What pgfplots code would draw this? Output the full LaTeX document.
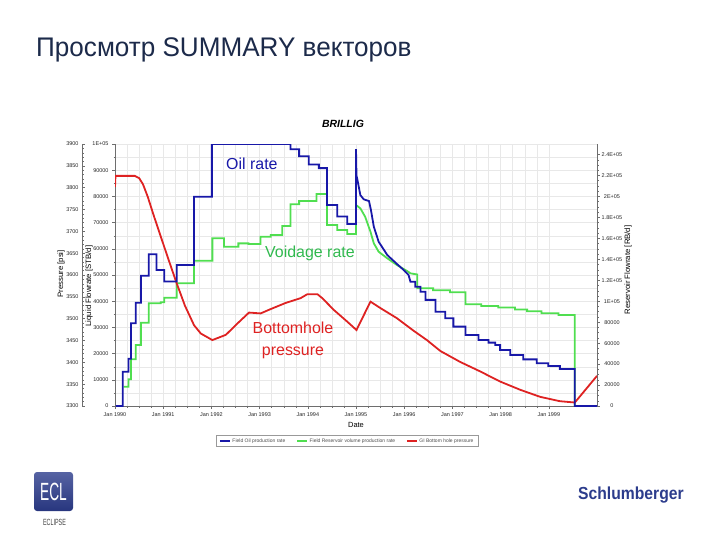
\documentclass[border=0pt]{standalone}
\usepackage{pgfplots}
\pgfplotsset{compat=1.18}
\usepackage{fontspec}
\setmainfont{Liberation Sans}

\definecolor{oilblue}{RGB}{24,24,168}
\definecolor{voidgreen}{RGB}{80,222,80}
\definecolor{bhpred}{RGB}{222,34,34}
\definecolor{txtgreen}{RGB}{48,185,78}
\definecolor{titlenavy}{RGB}{28,42,74}
\definecolor{slbnavy}{RGB}{44,60,140}
\definecolor{axgray}{RGB}{110,110,110}

\newcommand{\tickfont}{\fontsize{5.5}{6}\selectfont}

\pgfplotsset{
  chartbox/.style={
    scale only axis, width=482bp, height=262bp,
    at={(115bp,-406bp)}, anchor=south west,
    xmin=1990, xmax=2000,
    /pgf/number format/.cd, 1000 sep={}, assume math mode=true, /pgfplots/.cd,
    scaled y ticks=false,
    tick label style={font=\tickfont, text=black!85},
    axis line style={axgray, line width=0.5bp},
    major tick length=3bp, minor tick length=1.5bp,
    tick style={axgray, line width=0.4bp},
  },
}

\begin{document}
\begin{tikzpicture}[x=1bp,y=1bp]
\path[use as bounding box] (0bp,0bp) rectangle (720bp,-540bp);

% slide title
\node[anchor=base west, inner sep=0, text=titlenavy, font=\fontsize{27}{27}\selectfont]
  at (36bp,-56bp) {\scalebox{0.97}[1]{Просмотр SUMMARY векторов}};

% main axis: grid, date axis, liquid flowrate axis, legend
\begin{axis}[chartbox,
  ymin=0, ymax=100000,
  axis lines*=left,
  tick align=outside,
  xtick={1990,1991,1992,1993,1994,1995,1996,1997,1998,1999},
  xticklabels={Jan 1990,Jan 1991,Jan 1992,Jan 1993,Jan 1994,Jan 1995,Jan 1996,Jan 1997,Jan 1998,Jan 1999},
  minor x tick num=3,
  ytick={0,10000,20000,30000,40000,50000,60000,70000,80000,90000,100000},
  yticklabels={0,10000,20000,30000,40000,50000,60000,70000,80000,90000,1E+05},
  minor y tick num=1,
  grid=both, grid style={gray!18, line width=0.4bp},
  xlabel={Date},
  xlabel style={font=\fontsize{7.5}{8}\selectfont, at={(axis description cs:0.5,-0.072)}, anchor=center},
  ylabel={Liquid Flowrate [STB/d]},
  ylabel style={font=\fontsize{7.8}{8}\selectfont, at={([xshift=-26bp]rel axis cs:0,0.458)}, anchor=center},
  title={BRILLIG},
  title style={font=\bfseries\itshape\fontsize{10.5}{11}\selectfont, at={(axis description cs:0.473,1.053)}, anchor=center},
  legend style={at={(axis description cs:0.482,-0.134)}, anchor=center,
    font=\fontsize{5}{5.5}\selectfont, text=black!70, draw=gray!80,
    inner xsep=3bp, inner ysep=1bp, legend columns=3,
    /tikz/every even column/.append style={column sep=9bp}},
  legend image code/.code={\draw[#1, line width=1.3bp] (0bp,0bp) -- (10bp,0bp);},
]
\addlegendimage{oilblue}\addlegendentry{Field Oil production rate}
\addlegendimage{voidgreen}\addlegendentry{Field Reservoir volume production rate}
\addlegendimage{bhpred}\addlegendentry{GI Bottom hole pressure}
\end{axis}

% pressure axis on the far left
\begin{axis}[
  scale only axis, width=1bp, height=262bp,
  at={(82bp,-406bp)}, anchor=south west,
  xmin=0, xmax=1, ymin=3300, ymax=3900,
  axis x line=none, axis y line*=left,
  /pgf/number format/.cd, 1000 sep={}, assume math mode=true, /pgfplots/.cd,
  scaled y ticks=false,
  ytick={3300,3350,...,3900}, minor y tick num=4,
  tick align=inside,
  tick label style={font=\tickfont, text=black!85},
  axis line style={axgray, line width=0.5bp},
  major tick length=3bp, minor tick length=1.5bp,
  tick style={axgray, line width=0.4bp},
  ylabel={Pressure [psi]},
  ylabel style={font=\fontsize{7.8}{8}\selectfont, at={([xshift=-21bp]rel axis cs:0,0.504)}, anchor=center},
]
\end{axis}

% voidage rate on the right axis
\begin{axis}[chartbox,
  ymin=0, ymax=250000,
  axis x line=none, axis y line*=right,
  tick align=outside,
  ytick={0,20000,40000,60000,80000,100000,120000,140000,160000,180000,200000,220000,240000},
  yticklabels={0,20000,40000,60000,80000,1E+05,1.2E+05,1.4E+05,1.6E+05,1.8E+05,2E+05,2.2E+05,2.4E+05},
  minor y tick num=3,
  yticklabel style={anchor=center, xshift=12bp},
  ylabel={Reservoir Flowrate [RB/d]},
  ylabel style={font=\fontsize{7.8}{8}\selectfont, at={([xshift=31bp]rel axis cs:1,0.519)}, anchor=center},
]
\addplot[voidgreen, line width=1.8bp] coordinates {
(1990.18,18400)(1990.28,18400)(1990.28,25500)(1990.33,25500)(1990.33,44600)(1990.43,44600)
(1990.43,58200)(1990.54,58200)(1990.54,79500)(1990.70,79500)(1990.70,98000)(1990.95,98000)
(1990.95,99000)(1991.02,99000)(1991.02,103300)(1991.28,103300)(1991.28,117100)(1991.64,117100)
(1991.64,138600)(1992.02,138600)(1992.02,160000)(1992.26,160000)(1992.26,152000)(1992.56,152000)
(1992.56,155200)(1992.77,155200)(1992.77,154600)(1993.02,154600)(1993.02,161500)(1993.23,161500)
(1993.23,163200)(1993.47,163200)(1993.47,171800)(1993.64,171800)(1993.64,192500)(1993.82,192500)
(1993.82,195600)(1994.18,195600)(1994.18,202300)(1994.40,202300)(1994.40,172700)(1994.61,172700)
(1994.61,167900)(1994.82,167900)(1994.82,164100)(1995.00,164100)(1995.00,191800)
(1995.09,188600)(1995.19,180600)(1995.30,166300)(1995.37,155200)(1995.47,147200)(1995.65,140900)
(1995.85,134500)(1996.06,128800)(1996.13,126600)(1996.27,125500)(1996.27,112300)(1996.60,112300)
(1996.60,110500)(1996.95,110500)(1996.95,108500)(1997.27,108500)(1997.27,97000)(1997.60,97000)
(1997.60,95500)(1997.95,95500)(1997.95,94000)(1998.30,94000)(1998.30,92000)(1998.55,92000)
(1998.55,90500)(1998.85,90500)(1998.85,88500)(1999.20,88500)(1999.20,86800)(1999.54,86800)
(1999.54,0)
};
\end{axis}

% bottom hole pressure
\begin{axis}[chartbox, hide axis, ymin=3300, ymax=3900]
\addplot[bhpred, line width=1.8bp] coordinates {
(1990.00,3802)(1990.01,3827)(1990.41,3827)(1990.50,3822)(1990.58,3808)(1990.68,3779)
(1990.81,3734)(1990.95,3688)(1991.09,3642)(1991.27,3584)(1991.45,3530)(1991.64,3485)
(1991.78,3466)(1992.02,3451)(1992.30,3463)(1992.55,3490)(1992.78,3514)(1993.02,3512)
(1993.23,3522)(1993.54,3536)(1993.85,3547)(1993.99,3556)(1994.20,3556)(1994.30,3547)
(1994.54,3520)(1994.82,3493)(1995.01,3474)(1995.30,3539)(1995.51,3524)(1995.85,3501)
(1996.20,3472)(1996.47,3451)(1996.75,3426)(1997.16,3401)(1997.58,3379)(1997.99,3356)
(1998.41,3337)(1998.82,3321)(1999.23,3311)(1999.54,3308)(2000.00,3369)
};
\end{axis}

% oil production rate
\begin{axis}[chartbox, hide axis, ymin=0, ymax=100000]
\addplot[oilblue, line width=1.8bp] coordinates {
(1990.02,0)(1990.16,0)(1990.16,13100)(1990.28,13100)(1990.28,18000)(1990.33,18000)
(1990.33,31600)(1990.43,31600)(1990.43,39400)(1990.54,39400)(1990.54,49700)(1990.70,49700)
(1990.70,57900)(1990.86,57900)(1990.86,51900)(1991.02,51900)(1991.02,47500)(1991.28,47500)
(1991.28,53800)(1991.64,53800)(1991.64,79900)(1992.01,79900)(1992.01,100000)(1993.64,100000)
(1993.64,98000)(1993.82,98000)(1993.82,95300)(1994.02,95300)(1994.02,92200)(1994.23,92200)
(1994.23,90800)(1994.40,90800)(1994.40,76700)(1994.61,76700)(1994.61,72300)(1994.82,72300)
(1994.82,69500)(1995.00,69500)(1995.00,98000)(1995.01,88000)(1995.03,86300)(1995.09,80500)
(1995.16,78900)(1995.27,78200)(1995.31,74800)(1995.37,68400)(1995.47,62700)(1995.65,57600)
(1995.85,54200)(1995.99,51900)(1996.09,50000)(1996.13,47400)(1996.23,47400)(1996.23,45500)
(1996.34,45500)(1996.34,43600)(1996.44,43600)(1996.44,40500)(1996.65,40500)(1996.65,36000)
(1996.85,36000)(1996.85,33500)(1997.02,33500)(1997.02,30300)(1997.27,30300)(1997.27,27100)
(1997.54,27100)(1997.54,25200)(1997.75,25200)(1997.75,24200)(1997.89,24200)(1997.89,23300)
(1997.99,23300)(1997.99,21400)(1998.20,21400)(1998.20,19500)(1998.47,19500)(1998.47,17800)
(1998.75,17800)(1998.75,16300)(1998.99,16300)(1998.99,15300)(1999.23,15300)(1999.23,14100)
(1999.54,14100)(1999.54,0)(2000.00,0)
};
\end{axis}

% annotations
\node[anchor=base west, inner sep=0, text=oilblue, font=\fontsize{16}{16}\selectfont] at (226bp,-169bp) {Oil rate};
\node[anchor=base west, inner sep=0, text=txtgreen, font=\fontsize{16}{16}\selectfont] at (265bp,-257bp) {Voidage rate};
\node[anchor=base, inner sep=0, text=bhpred, font=\fontsize{16}{16}\selectfont] at (293bp,-333bp) {Bottomhole};
\node[anchor=base, inner sep=0, text=bhpred, font=\fontsize{16}{16}\selectfont] at (293bp,-355bp) {pressure};

% logos
\shade[rounded corners=3bp, top color=slbnavy!80!white, bottom color=slbnavy!90!black] (34bp,-472bp) rectangle (73bp,-511bp);
\node[text=white, inner sep=0, font=\fontsize{25}{25}\selectfont] at (53.5bp,-491.5bp) {\scalebox{0.55}[1]{ECL}};
\node[text=black!75, inner sep=0, font=\fontsize{9}{9}\selectfont] at (54.5bp,-522bp) {\scalebox{0.6}[1]{ECLIPSE}};
\node[anchor=base west, inner sep=0, text=slbnavy, font=\bfseries\fontsize{17.5}{17.5}\selectfont] at (578bp,-499bp) {\scalebox{0.9}[1]{Schlumberger}};
\end{tikzpicture}
\end{document}
